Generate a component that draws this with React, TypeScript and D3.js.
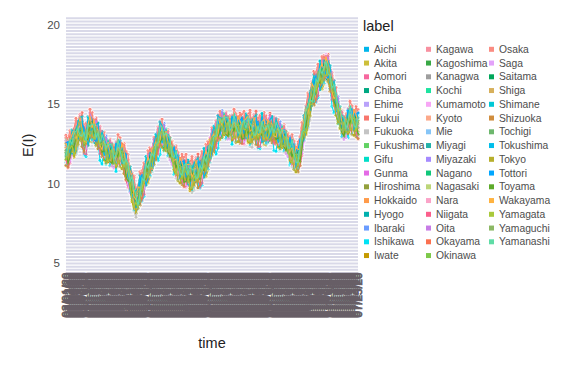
import React from "react";
import * as d3 from "d3";

const prefectures = [
  "Aichi", "Akita", "Aomori", "Chiba", "Ehime", "Fukui", "Fukuoka", "Fukushima",
  "Gifu", "Gunma", "Hiroshima", "Hokkaido", "Hyogo", "Ibaraki", "Ishikawa", "Iwate",
  "Kagawa", "Kagoshima", "Kanagwa", "Kochi", "Kumamoto", "Kyoto", "Mie", "Miyagi",
  "Miyazaki", "Nagano", "Nagasaki", "Nara", "Niigata", "Oita", "Okayama", "Okinawa",
  "Osaka", "Saga", "Saitama", "Shiga", "Shimane", "Shizuoka", "Tochigi", "Tokushima",
  "Tokyo", "Tottori", "Toyama", "Wakayama", "Yamagata", "Yamaguchi", "Yamanashi",
];

const colors = [
  "#00B6EB", "#CDBF3A", "#F7679F", "#00A882", "#B9A2FA", "#F8766D", "#C4C4C4", "#62D264",
  "#00DEC8", "#E46BE6", "#93A03C", "#FF9B4A", "#00B0AE", "#6A9CFF", "#00E2F5", "#C59A00",
  "#F890A0", "#39A845", "#9E9E9E", "#1DE3A0", "#F7A6F5", "#FCA98A", "#86C5F7", "#23B1A8",
  "#A58AFF", "#10C77A", "#BCD679", "#FBA3C8", "#FB5F8C", "#C77CE6", "#FB704F", "#7DC94A",
  "#FA8C82", "#E3A2FA", "#00A65A", "#D7B05C", "#00C8D6", "#D08D3E", "#6DB76D", "#00BEEB",
  "#B7AF2C", "#00A6FF", "#5DAA2A", "#FFB340", "#A9C93B", "#8CB864", "#5FDCA6",
];

// central path of the bundle (one value per day)
const baseline = [
  12.0, 11.9, 12.2, 12.5, 12.6, 12.9, 13.2, 13.4, 13.3, 12.9,
  12.8, 13.2, 13.6, 13.5, 13.3, 13.1, 13.0, 12.7, 12.4, 12.3,
  12.1, 12.0, 11.9, 11.8, 11.7, 11.8, 12.0, 12.0, 11.8, 11.5,
  11.1, 10.7, 10.2, 9.8, 9.3, 8.9, 9.0, 9.6, 10.0, 10.3,
  10.7, 11.0, 11.3, 11.5, 11.9, 12.3, 12.7, 13.0, 13.1, 12.9,
  12.7, 12.5, 12.2, 11.9, 11.6, 11.3, 11.1, 10.9, 10.8, 10.7,
  10.7, 10.6, 10.5, 10.5, 10.6, 10.7, 10.7, 10.8, 11.0, 11.2,
  11.4, 11.7, 12.1, 12.5, 12.8, 13.1, 13.4, 13.6, 13.7, 13.7,
  13.6, 13.5, 13.5, 13.5, 13.6, 13.5, 13.5, 13.4, 13.4, 13.4,
  13.5, 13.5, 13.4, 13.3, 13.4, 13.4, 13.3, 13.3, 13.4, 13.4,
  13.3, 13.3, 13.4, 13.4, 13.3, 13.2, 13.1, 13.0, 12.9, 12.8,
  12.6, 12.4, 12.2, 12.0, 11.8, 11.6, 11.6, 12.0, 12.7, 13.4,
  14.0, 14.5, 15.0, 15.5, 15.9, 16.2, 16.5, 16.7, 16.9, 17.1,
  17.3, 17.1, 16.6, 16.1, 15.6, 15.1, 14.6, 14.1, 13.7, 13.5,
  13.6, 13.9, 14.1, 14.0, 13.9, 13.8, 13.7,
];

// per-prefecture level shift
const offsets = [
  0.1, -0.35, 0.3, -0.1, 0.2, 0.45, -0.4, 0.05, -0.2, 0.25,
  -0.3, 0.15, -0.05, 0.35, -0.45, -0.25, 0.4, 0.0, -0.15, 0.2,
  -0.3, 0.3, -0.1, 0.1, 0.25, -0.2, 0.05, 0.15, -0.35, 0.35,
  0.2, -0.05, 0.5, -0.25, 0.1, -0.15, 0.3, -0.4, 0.05, 0.0,
  -0.3, 0.15, -0.1, 0.25, -0.2, 0.1, 0.2,
];

// per-prefecture size of the day-to-day swings
const amps = [
  1.5, 1.1, 1.2, 0.9, 1.0, 1.3, 1.2, 0.8, 1.3, 1.0,
  0.9, 1.1, 1.2, 1.0, 1.4, 1.2, 1.1, 0.8, 1.0, 1.2,
  0.9, 1.1, 1.0, 1.3, 0.8, 1.0, 0.9, 1.1, 1.2, 1.0,
  1.1, 0.9, 1.3, 1.0, 0.8, 1.1, 1.3, 1.0, 0.9, 1.4,
  1.1, 1.2, 0.9, 1.0, 1.1, 0.9, 1.0,
];

// day-to-day jitter pattern
const wiggle = [
  0.35, -0.3, 0.5, -0.45, 0.1, -0.2, 0.45, -0.35, 0.25, -0.55,
  0.05, 0.3, -0.15, 0.4, -0.5, 0.2, -0.05, 0.55, -0.25, 0.15,
  -0.4, 0.3, -0.1, 0.45, -0.3, 0.0, 0.35, -0.45, 0.2,
];

const startDate = "2020-03-01";
const yTicks = [5, 10, 15, 20];

export default function App() {
  const W = 567;
  const H = 378;
  const left = 66, right = 358, top = 17.5, bottom = 273;

  const start = d3.timeParse("%Y-%m-%d")(startDate) as Date;
  const dates = d3.timeDay.range(start, d3.timeDay.offset(start, baseline.length));
  const fmt = d3.timeFormat("%m/%d/%y");
  const timeLabels = dates.map(fmt);

  const x = d3.scalePoint<string>().domain(timeLabels).range([left, right]);
  const y = d3.scaleLinear().domain([4.4, 20.45]).range([bottom, top]);

  const series = prefectures.map((name, p) => ({
    name,
    color: colors[p],
    values: baseline.map(
      (b, i) => b + (offsets[p] ?? 0) + (amps[p] ?? 1) * wiggle[(i * 5 + p * 7) % wiggle.length]
    ),
  }));

  const line = d3
    .line<number>()
    .x((_, i) => x(timeLabels[i]) as number)
    .y((d) => y(d));

  const stripes = d3.range(22, 103).map((k) => k * 0.2);

  const rowH = 13.75;
  const legendCols = [
    { kx: 364, tx: 374, items: prefectures.slice(0, 16), off: 0 },
    { kx: 426, tx: 436, items: prefectures.slice(16, 32), off: 16 },
    { kx: 489, tx: 499, items: prefectures.slice(32), off: 32 },
  ];

  const font = "'Liberation Sans', Arial, Helvetica, sans-serif";

  return (
    <svg
      width={W}
      height={H}
      style={{ position: "absolute", left: 0, top: 0, background: "#fff" }}
      fontFamily={font}
    >
      <rect x={0} y={0} width={W} height={H} fill="#fff" />
      <g>
        {stripes.map((v, k) => (
          <line key={k} x1={left} x2={right} y1={y(v)} y2={y(v)} stroke="#d9d9e8" strokeWidth={2} />
        ))}
      </g>
      <g>
        {series.map((s) =>
          s.values.map((v, i) => (
            <circle
              key={s.name + i}
              cx={x(timeLabels[i]) as number}
              cy={y(v)}
              r={2}
              fill={s.color}
              stroke="#fff"
              strokeWidth={0.8}
            />
          ))
        )}
      </g>
      <g>
        {series.map((s) => (
          <path key={s.name} d={line(s.values) || ""} fill="none" stroke={s.color} strokeWidth={1.1} />
        ))}
      </g>
      <g fontSize={11.5} fill="#4d4d4d">
        {yTicks.map((t) => (
          <text key={t} x={60} y={y(t)} textAnchor="end" dominantBaseline="central">
            {t}
          </text>
        ))}
      </g>
      <g fontSize={11.5} fill="#675e66" stroke="#675e66" strokeWidth={0.7}>
        {timeLabels.map((lab) => (
          <text
            key={lab}
            transform={`translate(${x(lab)},295) rotate(-90)`}
            textAnchor="middle"
            dominantBaseline="central"
          >
            {lab}
          </text>
        ))}
      </g>
      <text x={(left + right) / 2} y={348} textAnchor="middle" fontSize={14.5} fill="#222">
        time
      </text>
      <text
        transform={`translate(33,${(top + bottom) / 2}) rotate(-90)`}
        textAnchor="middle"
        fontSize={14.5}
        fill="#222"
      >
        E(I)
      </text>
      <text x={363} y={31} fontSize={14.5} fill="#222">
        label
      </text>
      {legendCols.map((c, ci) => (
        <g key={ci}>
          {c.items.map((name, r) => (
            <g key={name}>
              <rect x={c.kx} y={49.3 + r * rowH - 2.5} width={5} height={5} fill={colors[c.off + r]} />
              <text x={c.tx} y={49.3 + r * rowH} dominantBaseline="central" fontSize={10.3} fill="#4d4d4d">
                {name}
              </text>
            </g>
          ))}
        </g>
      ))}
    </svg>
  );
}
